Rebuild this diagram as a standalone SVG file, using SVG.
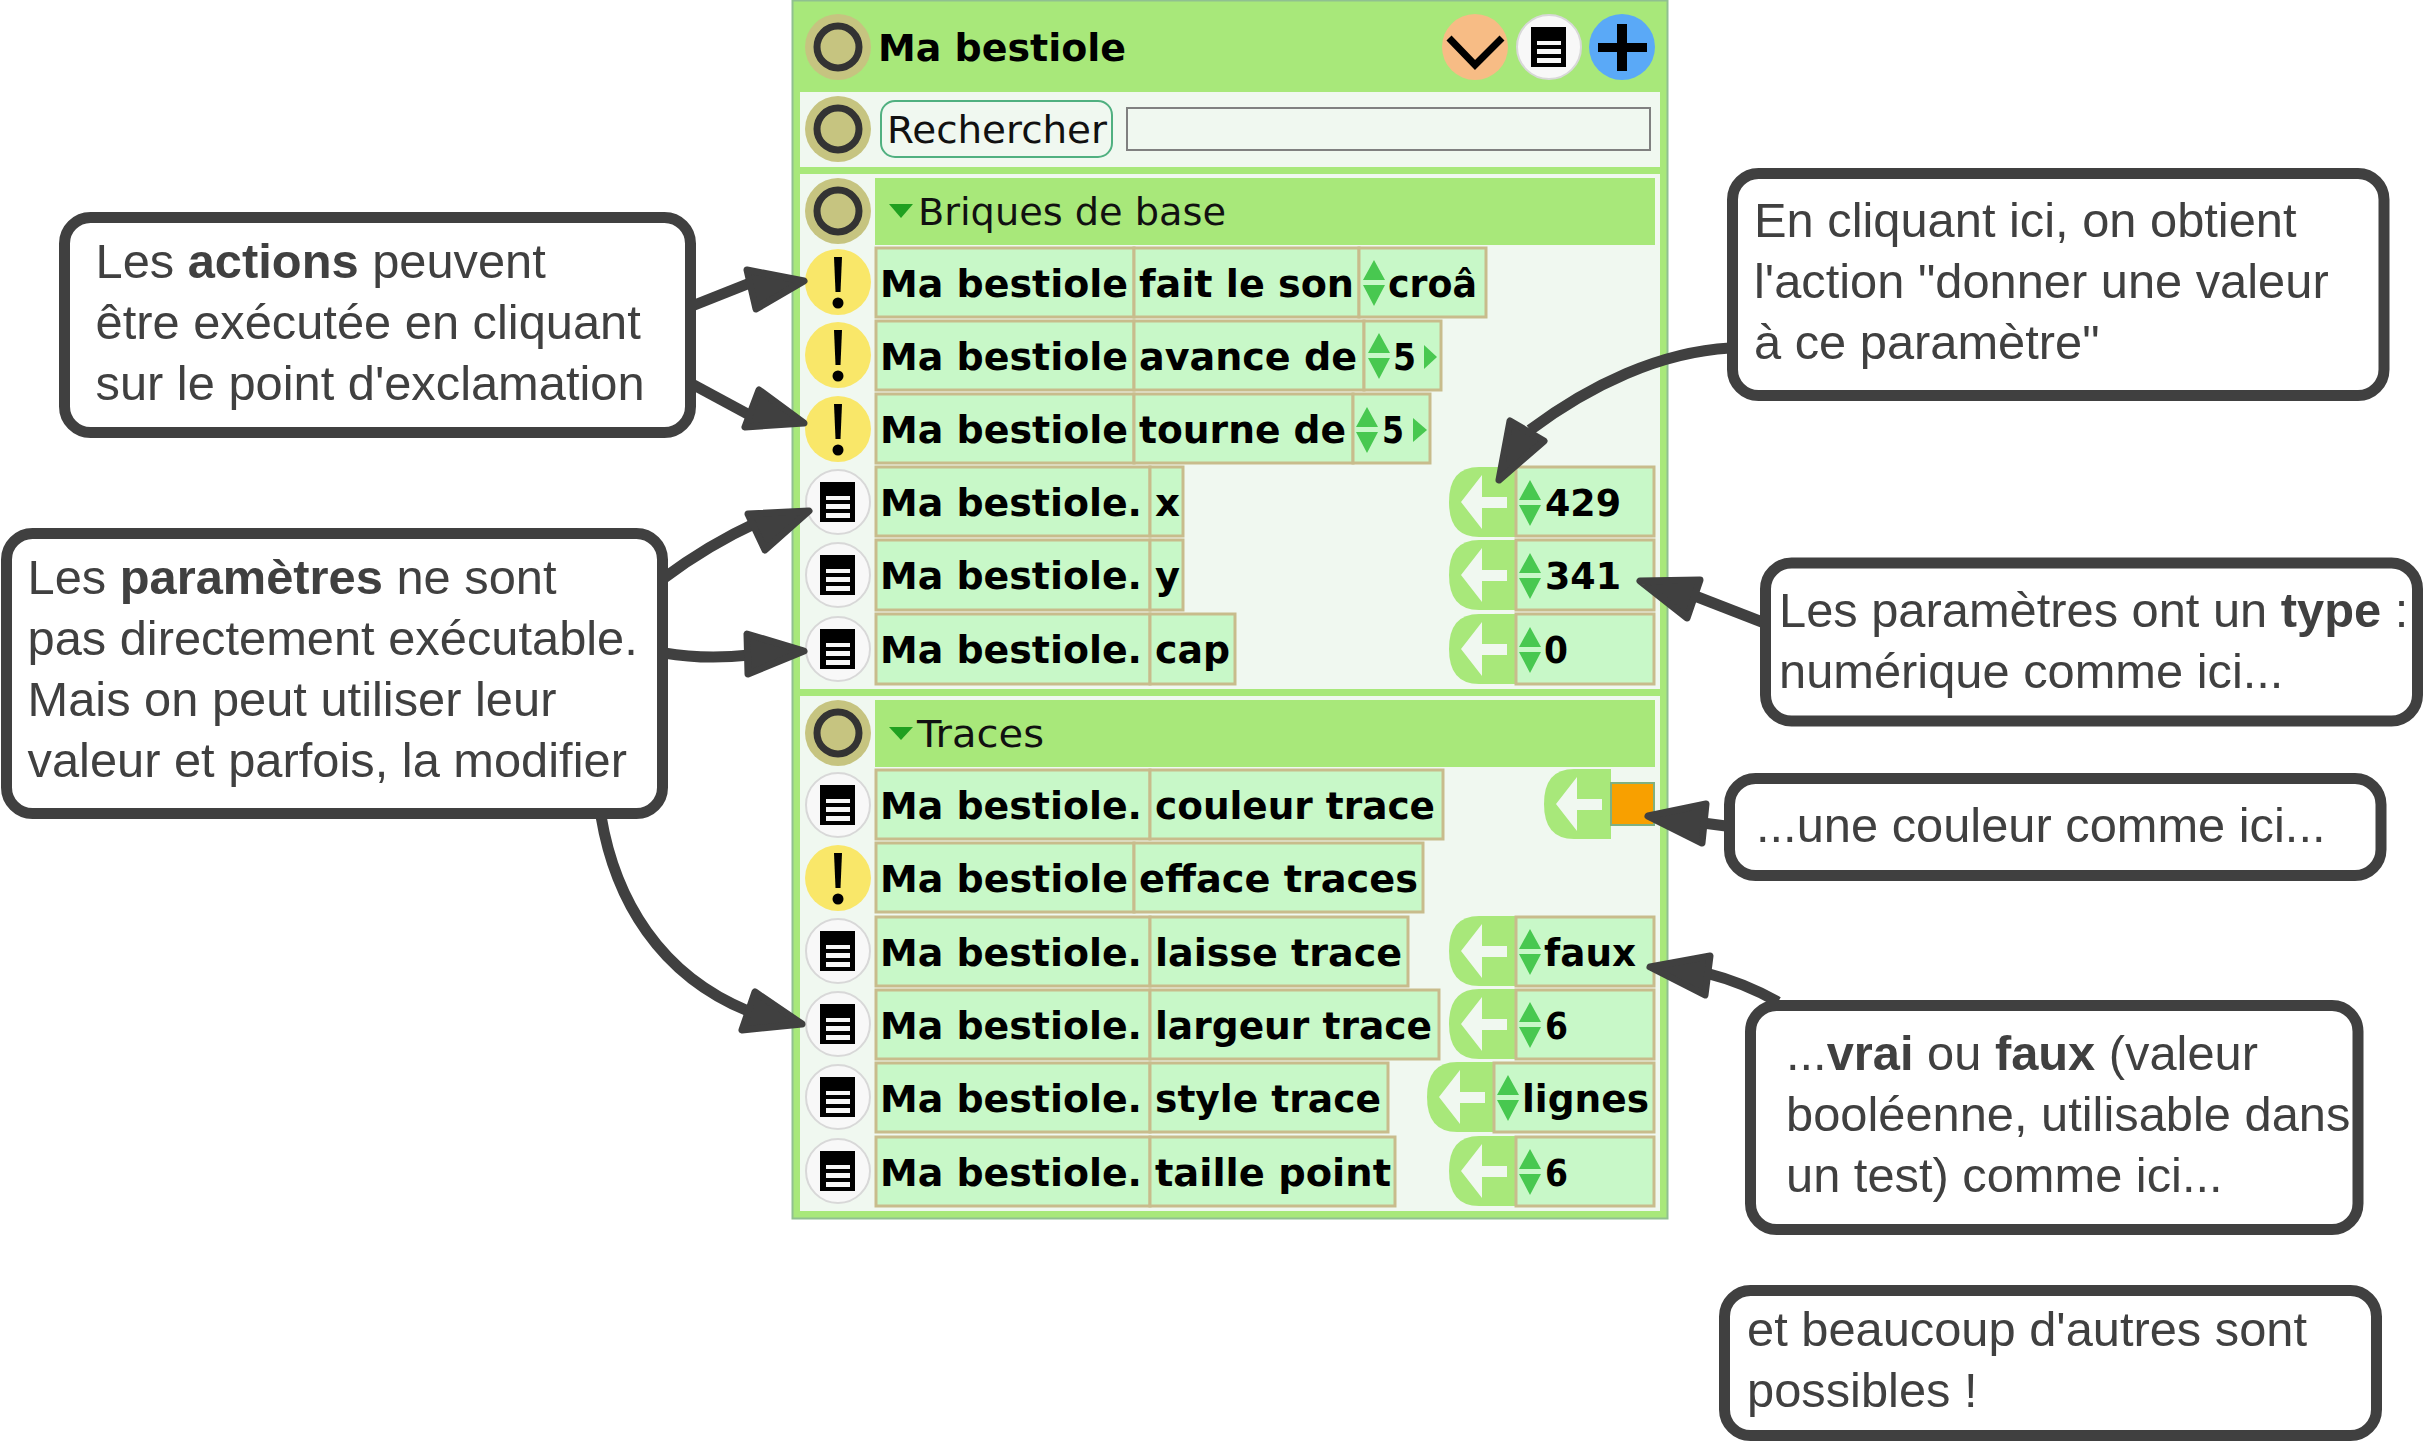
<svg xmlns="http://www.w3.org/2000/svg" xmlns:xlink="http://www.w3.org/1999/xlink" width="2423" height="1442" viewBox="0 0 2423 1442">
<style>
.b{font-family:"DejaVu Sans",sans-serif;font-weight:bold;font-size:37px;fill:#000;transform:translate(-1px,1.5px)}
.r{font-family:"DejaVu Sans",sans-serif;font-size:37px;fill:#111;transform:translate(0,1.5px)}
.brick{fill:#c8f8c8;stroke:#c8bc8c;stroke-width:3}
.c{font-family:"Liberation Sans",Arial,sans-serif;font-size:48.8px;fill:#404040}
.c tspan.h{font-weight:bold}
.box{fill:#fff;stroke:#404040;stroke-width:11}
.line{fill:none;stroke:#404040;stroke-width:11}
.head{fill:#404040;stroke:#404040;stroke-width:7;stroke-linejoin:round}
.sec{fill:#f0f8f0}
.hdr{fill:#a8e87a}
</style>
<defs>
<g id="olive"><circle r="33" fill="#c6c480"/><circle r="21" fill="#c6c480" stroke="#333" stroke-width="7"/></g>
<g id="bang"><circle r="33" fill="#f9e769"/><path d="M-4,-25 H4 L2.5,10 H-2.5Z" fill="#000"/><circle cy="21" r="5.5" fill="#000"/></g>
<g id="doc"><circle r="32" fill="#f8f8f8" stroke="#d8d8d8" stroke-width="2"/><rect x="-18" y="-20" width="35" height="40" fill="#000"/><path d="M-12,-6H12V-2H-12ZM-12,2H12V7H-12ZM-12,11H12V16H-12Z" fill="#f8f8f8"/></g>
<g id="spin"><path d="M0,-22 L11,-2 H-11Z M0,24 L11,3 H-11Z" fill="#48c850"/></g>
<path id="set" d="M67,-35 H30 Q0,-35 0,0 Q0,35 30,35 H67Z" fill="#a8e87a"/>
<path id="setw" d="M12,0 L33,-27 V-5 H58 V6 H33 V27Z" fill="#f0f8f0"/>
</defs>

<g id="panel">
<rect x="792.5" y="0.5" width="875" height="1218" fill="#a8e87a" stroke="#90c090" stroke-width="2"/>
<rect class="sec" x="800" y="92" width="860" height="75"/>
<rect class="sec" x="800" y="174" width="860" height="515"/>
<rect class="sec" x="800" y="696" width="860" height="515"/>
</g>

<g id="title"><use xlink:href="#olive" x="838" y="47"/><text class="b" x="879" y="59" textLength="248" lengthAdjust="spacingAndGlyphs">Ma bestiole</text></g>
<g id="btn-menu"><ellipse cx="1475" cy="47" rx="33" ry="33" fill="#f7bc85"/><path d="M1449,38 L1475,65 L1502,38" fill="none" stroke="#000" stroke-width="7"/></g>
<g id="btn-doc"><use xlink:href="#doc" x="1549" y="47"/></g>
<g id="btn-add"><circle cx="1622" cy="47" r="33" fill="#5aa9f7"/><path d="M1617,24H1627V43H1647V52H1627V71H1617V52H1598V43H1617Z" fill="#000"/></g>

<g id="search"><use xlink:href="#olive" x="838" y="129"/><rect x="881" y="101" width="231" height="56" rx="14" fill="#f0f8f0" stroke="#50b080" stroke-width="2"/><text class="r" x="887" y="141" textLength="220" lengthAdjust="spacingAndGlyphs">Rechercher</text><rect x="1127" y="108" width="523" height="42" fill="#f0f8f0" stroke="#808080" stroke-width="2"/></g>

<g id="sec-base"><use xlink:href="#olive" x="838" y="211"/><rect class="hdr" x="875" y="178" width="780" height="67"/><path d="M889,204H913L901,218Z" fill="#20a020"/><text class="r" x="918" y="223" textLength="308" lengthAdjust="spacingAndGlyphs">Briques de base</text></g>

<g id="r1"><use xlink:href="#bang" x="838" y="282"/><rect class="brick" x="876" y="248" width="258" height="69"/><rect class="brick" x="1134" y="248" width="225" height="69"/><rect class="brick" x="1359" y="248" width="127" height="69"/><text class="b" x="881" y="295" textLength="248" lengthAdjust="spacingAndGlyphs">Ma bestiole</text><text class="b" x="1140" y="295" textLength="215" lengthAdjust="spacingAndGlyphs">fait le son</text><use xlink:href="#spin" x="1374" y="282"/><text class="b" x="1389" y="295" textLength="89" lengthAdjust="spacingAndGlyphs">croâ</text></g>
<g id="r2"><use xlink:href="#bang" x="838" y="355"/><rect class="brick" x="876" y="321" width="258" height="69"/><rect class="brick" x="1134" y="321" width="230" height="69"/><rect class="brick" x="1364" y="321" width="77" height="69"/><text class="b" x="881" y="368" textLength="248" lengthAdjust="spacingAndGlyphs">Ma bestiole</text><text class="b" x="1140" y="368" textLength="218" lengthAdjust="spacingAndGlyphs">avance de</text><use xlink:href="#spin" x="1379" y="355"/><text class="b" x="1394" y="368" textLength="23" lengthAdjust="spacingAndGlyphs">5</text><path d="M1424,345L1437,357L1424,369Z" fill="#48c850"/></g>
<g id="r3"><use xlink:href="#bang" x="838" y="429"/><rect class="brick" x="876" y="394" width="258" height="69"/><rect class="brick" x="1134" y="394" width="219" height="69"/><rect class="brick" x="1353" y="394" width="77" height="69"/><text class="b" x="881" y="441" textLength="248" lengthAdjust="spacingAndGlyphs">Ma bestiole</text><text class="b" x="1140" y="441" textLength="207" lengthAdjust="spacingAndGlyphs">tourne de</text><use xlink:href="#spin" x="1367" y="429"/><text class="b" x="1383" y="441" textLength="22" lengthAdjust="spacingAndGlyphs">5</text><path d="M1413,418L1427,430L1413,442Z" fill="#48c850"/></g>

<g id="r4"><use xlink:href="#doc" x="838" y="502"/><rect class="brick" x="876" y="467" width="274" height="69"/><rect class="brick" x="1150" y="467" width="33" height="69"/><text class="b" x="881" y="514" textLength="262" lengthAdjust="spacingAndGlyphs">Ma bestiole.</text><text class="b" x="1156" y="514" textLength="25" lengthAdjust="spacingAndGlyphs">x</text><use xlink:href="#set" x="1449" y="502"/><use xlink:href="#setw" x="1449" y="502"/><rect class="brick" x="1516" y="467" width="138" height="69"/><use xlink:href="#spin" x="1530" y="502"/><text class="b" x="1546" y="514" textLength="76" lengthAdjust="spacingAndGlyphs">429</text></g>
<g id="r5"><use xlink:href="#doc" x="838" y="575"/><rect class="brick" x="876" y="540" width="274" height="70"/><rect class="brick" x="1150" y="540" width="33" height="70"/><text class="b" x="881" y="587" textLength="262" lengthAdjust="spacingAndGlyphs">Ma bestiole.</text><text class="b" x="1156" y="587" textLength="25" lengthAdjust="spacingAndGlyphs">y</text><use xlink:href="#set" x="1449" y="575"/><use xlink:href="#setw" x="1449" y="575"/><rect class="brick" x="1516" y="540" width="138" height="70"/><use xlink:href="#spin" x="1530" y="575"/><text class="b" x="1546" y="587" textLength="76" lengthAdjust="spacingAndGlyphs">341</text></g>
<g id="r6"><use xlink:href="#doc" x="838" y="649"/><rect class="brick" x="876" y="614" width="274" height="70"/><rect class="brick" x="1150" y="614" width="85" height="70"/><text class="b" x="881" y="661" textLength="262" lengthAdjust="spacingAndGlyphs">Ma bestiole.</text><text class="b" x="1156" y="661" textLength="75" lengthAdjust="spacingAndGlyphs">cap</text><use xlink:href="#set" x="1449" y="649"/><use xlink:href="#setw" x="1449" y="649"/><rect class="brick" x="1516" y="614" width="138" height="70"/><use xlink:href="#spin" x="1530" y="649"/><text class="b" x="1545" y="661" textLength="24" lengthAdjust="spacingAndGlyphs">0</text></g>

<g id="sec-traces"><use xlink:href="#olive" x="838" y="733"/><rect class="hdr" x="875" y="700" width="780" height="67"/><path d="M889,727H913L901,740Z" fill="#20a020"/><text class="r" x="917" y="745" textLength="127" lengthAdjust="spacingAndGlyphs">Traces</text></g>

<g id="r7"><use xlink:href="#doc" x="838" y="805"/><rect class="brick" x="876" y="770" width="274" height="69"/><rect class="brick" x="1150" y="770" width="293" height="69"/><text class="b" x="881" y="817" textLength="262" lengthAdjust="spacingAndGlyphs">Ma bestiole.</text><text class="b" x="1156" y="817" textLength="280" lengthAdjust="spacingAndGlyphs">couleur trace</text><use xlink:href="#set" x="1544" y="804"/><use xlink:href="#setw" x="1544" y="804"/><rect x="1611" y="783" width="43" height="42" fill="#f8a000" stroke="#80b080" stroke-width="2"/></g>
<g id="r8"><use xlink:href="#bang" x="838" y="878"/><rect class="brick" x="876" y="843" width="258" height="69"/><rect class="brick" x="1134" y="843" width="289" height="69"/><text class="b" x="881" y="890" textLength="248" lengthAdjust="spacingAndGlyphs">Ma bestiole</text><text class="b" x="1140" y="890" textLength="279" lengthAdjust="spacingAndGlyphs">efface traces</text></g>
<g id="r9"><use xlink:href="#doc" x="838" y="951"/><rect class="brick" x="876" y="917" width="274" height="69"/><rect class="brick" x="1150" y="917" width="258" height="69"/><text class="b" x="881" y="964" textLength="262" lengthAdjust="spacingAndGlyphs">Ma bestiole.</text><text class="b" x="1156" y="964" textLength="247" lengthAdjust="spacingAndGlyphs">laisse trace</text><use xlink:href="#set" x="1449" y="951"/><use xlink:href="#setw" x="1449" y="951"/><rect class="brick" x="1516" y="917" width="138" height="69"/><use xlink:href="#spin" x="1530" y="951"/><text class="b" x="1545" y="964" textLength="92" lengthAdjust="spacingAndGlyphs">faux</text></g>
<g id="r10"><use xlink:href="#doc" x="838" y="1024"/><rect class="brick" x="876" y="990" width="274" height="69"/><rect class="brick" x="1150" y="990" width="289" height="69"/><text class="b" x="881" y="1037" textLength="262" lengthAdjust="spacingAndGlyphs">Ma bestiole.</text><text class="b" x="1156" y="1037" textLength="277" lengthAdjust="spacingAndGlyphs">largeur trace</text><use xlink:href="#set" x="1449" y="1024"/><use xlink:href="#setw" x="1449" y="1024"/><rect class="brick" x="1516" y="990" width="138" height="69"/><use xlink:href="#spin" x="1530" y="1024"/><text class="b" x="1546" y="1037" textLength="23" lengthAdjust="spacingAndGlyphs">6</text></g>
<g id="r11"><use xlink:href="#doc" x="838" y="1097"/><rect class="brick" x="876" y="1063" width="274" height="69"/><rect class="brick" x="1150" y="1063" width="238" height="69"/><text class="b" x="881" y="1110" textLength="262" lengthAdjust="spacingAndGlyphs">Ma bestiole.</text><text class="b" x="1156" y="1110" textLength="226" lengthAdjust="spacingAndGlyphs">style trace</text><use xlink:href="#set" x="1427" y="1097"/><use xlink:href="#setw" x="1427" y="1097"/><rect class="brick" x="1494" y="1063" width="160" height="69"/><use xlink:href="#spin" x="1508" y="1097"/><text class="b" x="1523" y="1110" textLength="127" lengthAdjust="spacingAndGlyphs">lignes</text></g>
<g id="r12"><use xlink:href="#doc" x="838" y="1171"/><rect class="brick" x="876" y="1137" width="274" height="69"/><rect class="brick" x="1150" y="1137" width="245" height="69"/><text class="b" x="881" y="1184" textLength="262" lengthAdjust="spacingAndGlyphs">Ma bestiole.</text><text class="b" x="1156" y="1184" textLength="236" lengthAdjust="spacingAndGlyphs">taille point</text><use xlink:href="#set" x="1449" y="1171"/><use xlink:href="#setw" x="1449" y="1171"/><rect class="brick" x="1516" y="1137" width="138" height="69"/><use xlink:href="#spin" x="1530" y="1171"/><text class="b" x="1546" y="1184" textLength="23" lengthAdjust="spacingAndGlyphs">6</text></g>

<g id="connectors">
<path class="line" d="M692,306 L755,281"/><polygon class="head" points="804,281 747,270 756,309"/>
<path class="line" d="M692,384 L755,418"/><polygon class="head" points="804,423 759,390 745,427"/>
<path class="line" d="M664,578 Q708,545 758,522"/><polygon class="head" points="809,511 748,514 765,550"/>
<path class="line" d="M664,653 Q705,660 750,655"/><polygon class="head" points="804,651 747,634 748,674"/>
<path class="line" d="M601,816 C615,900 660,975 748,1011"/><polygon class="head" points="802,1024 755,992 742,1030"/>
<path class="line" d="M1730,348 C1660,352 1590,385 1530,430"/><polygon class="head" points="1499,480 1544,441 1510,421"/>
<path class="line" d="M1762,622 L1695,596"/><polygon class="head" points="1640,581 1700,580 1687,618"/>
<path class="line" d="M1726,826 L1703,823"/><polygon class="head" points="1648,816 1706,804 1702,843"/>
<path class="line" d="M1778,1002 Q1745,983 1706,973"/><polygon class="head" points="1650,967 1710,956 1705,995"/>
</g>

<g id="note-actions"><rect class="box" x="64.5" y="217.5" width="626" height="215" rx="26"/><text class="c" x="95.5" y="278">Les <tspan class="h">actions</tspan> peuvent</text><text class="c" x="95.5" y="339">être exécutée en cliquant</text><text class="c" x="95.5" y="400">sur le point d'exclamation</text></g>
<g id="note-params"><rect class="box" x="6.5" y="533.5" width="656" height="280" rx="26"/><text class="c" x="27.5" y="594">Les <tspan class="h">paramètres</tspan> ne sont</text><text class="c" x="27.5" y="655">pas directement exécutable.</text><text class="c" x="27.5" y="716">Mais on peut utiliser leur</text><text class="c" x="27.5" y="777">valeur et parfois, la modifier</text></g>
<g id="note-click"><rect class="box" x="1732.5" y="173.5" width="651.5" height="222" rx="26"/><text class="c" x="1754" y="237">En cliquant ici, on obtient</text><text class="c" x="1754" y="298">l'action "donner une valeur</text><text class="c" x="1754" y="359">à ce paramètre"</text></g>
<g id="note-type"><rect class="box" x="1765.5" y="563" width="652" height="158" rx="26"/><text class="c" x="1779" y="627">Les paramètres ont un <tspan class="h">type</tspan> :</text><text class="c" x="1779" y="688">numérique comme ici...</text></g>
<g id="note-color"><rect class="box" x="1729.5" y="778.5" width="651.5" height="97" rx="26"/><text class="c" x="1756" y="842">...une couleur comme ici...</text></g>
<g id="note-bool"><rect class="box" x="1750.5" y="1005.5" width="607.5" height="224" rx="26"/><text class="c" x="1786" y="1070">...<tspan class="h">vrai</tspan> ou <tspan class="h">faux</tspan> (valeur</text><text class="c" x="1786" y="1131">booléenne, utilisable dans</text><text class="c" x="1786" y="1192">un test) comme ici...</text></g>
<g id="note-more"><rect class="box" x="1724.5" y="1290.5" width="652" height="145" rx="26"/><text class="c" x="1747" y="1346">et beaucoup d'autres sont</text><text class="c" x="1747" y="1407">possibles !</text></g>
</svg>
